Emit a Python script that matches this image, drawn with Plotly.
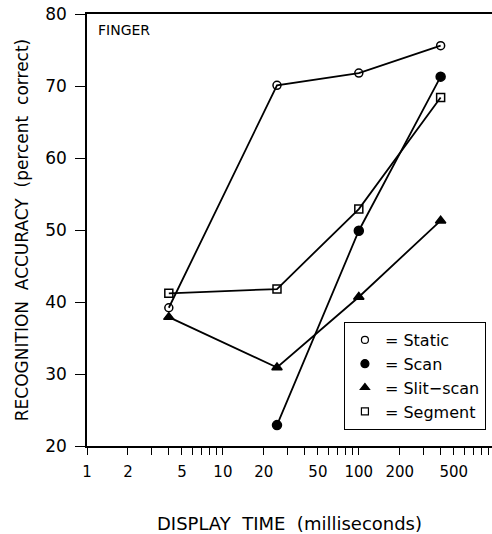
import plotly.graph_objects as go

display_time = [4, 25, 100, 400]
scan_time = [25, 100, 400]
static_acc = [39.2, 70.1, 71.8, 75.6]
scan_acc = [22.9, 49.9, 71.3]
slit_acc = [37.9, 30.9, 40.7, 51.3]
segment_acc = [41.2, 41.8, 52.9, 68.4]

series_names = ["= Static", "= Scan", "= Slit\u2212scan", "= Segment"]
y_ticks = [20, 30, 40, 50, 60, 70, 80]
x_labelled = [1, 2, 5, 10, 20, 50, 100, 200, 500]
x_minor = [1, 2, 3, 4, 5, 6, 7, 8, 9, 10, 20, 30, 40, 50, 60, 70, 80, 90,
           100, 200, 300, 400, 500, 600, 700, 800, 900]

FONT = "DejaVu Sans"
LW = 1.8

fig = go.Figure()

specs = [
    (display_time, static_acc, "circle-open", 8),
    (scan_time, scan_acc, "circle", 9),
    (display_time, slit_acc, "triangle-up", 9),
    (display_time, segment_acc, "square-open", 8),
]
for (xs, ys, sym, sz), name in zip(specs, series_names):
    fig.add_trace(go.Scatter(
        x=xs, y=ys, mode="lines+markers", showlegend=False,
        line=dict(color="black", width=LW),
        marker=dict(symbol=sym, size=sz, color="black",
                    line=dict(color="black", width=1.5)),
    ))
for (xs, ys, sym, sz), name in zip(specs, series_names):
    fig.add_trace(go.Scatter(
        x=[None], y=[None], mode="markers", name=name, showlegend=True,
        marker=dict(symbol=sym, size=sz - 1, color="black",
                    line=dict(color="black", width=1.2)),
    ))

fig.update_layout(
    width=492, height=534,
    margin=dict(l=87, r=0, t=14, b=88),
    paper_bgcolor="white", plot_bgcolor="white",
    font=dict(family=FONT, color="black", size=15),
    xaxis=dict(
        type="log", range=[0, 2.98],
        tickvals=x_minor,
        ticktext=[str(v) if v in x_labelled else "" for v in x_minor],
        ticks="outside", ticklen=7, tickwidth=1.2, tickcolor="black",
        showline=True, linecolor="black", linewidth=1.5, mirror=True,
        showgrid=False, zeroline=False,
        tickfont=dict(size=15), ticklabelstandoff=4,
        title=dict(text="DISPLAY  TIME  (milliseconds)", font=dict(size=18), standoff=40),
    ),
    yaxis=dict(
        range=[20, 80],
        tickvals=y_ticks,
        ticks="outside", ticklen=10, tickwidth=1.2, tickcolor="black",
        showline=True, linecolor="black", linewidth=1.5,
        showgrid=False, zeroline=False,
        tickfont=dict(size=17), ticklabelstandoff=5,
        title=dict(text="RECOGNITION  ACCURACY  (percent  correct)", font=dict(size=17), standoff=12),
    ),
    legend=dict(
        x=0.985, y=0.287, xanchor="right", yanchor="top",
        bordercolor="black", borderwidth=1, bgcolor="white",
        font=dict(size=16), itemwidth=30, tracegroupgap=0,
    ),
    annotations=[dict(
        text="FINGER", x=0.022, y=0.985, xref="paper", yref="paper",
        xanchor="left", yanchor="top", showarrow=False, font=dict(size=14),
    )],
)

fig.write_html("out.html")
